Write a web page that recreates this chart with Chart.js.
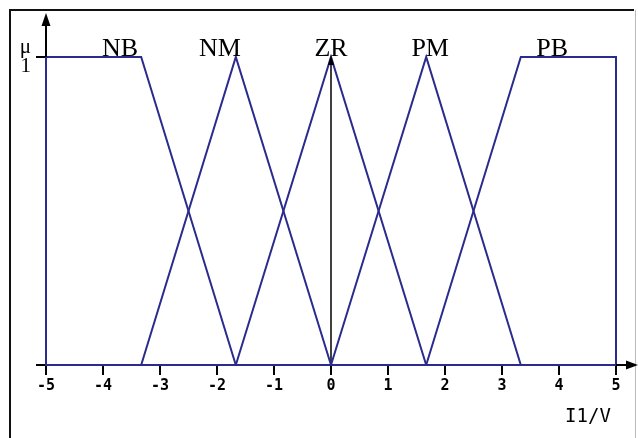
<!DOCTYPE html>
<html>
<head>
<meta charset="utf-8">
<script src="https://cdn.jsdelivr.net/npm/chart.js@4/dist/chart.umd.min.js"></script>
<style>
  html, body { margin: 0; padding: 0; background: #ffffff; }
  #wrap { width: 638px; height: 438px; }
</style>
</head>
<body>
<div id="wrap"><canvas id="c" width="638" height="438"></canvas></div>
<script>
// Fuzzy sets over the input I1 (V)
const setNames = ['NB', 'NM', 'ZR', 'PM', 'PB'];
const setLabelX = [-3.7, -1.95, 0, 1.74, 3.88];

const nbX = [-5, -5, -3.33, -1.67];
const nbY = [0, 1, 1, 0];
const nmX = [-3.33, -1.67, 0];
const nmY = [0, 1, 0];
const zrX = [-1.67, 0, 1.67];
const zrY = [0, 1, 0];
const pmX = [0, 1.67, 3.33];
const pmY = [0, 1, 0];
const pbX = [1.67, 3.33, 5, 5];
const pbY = [0, 1, 1, 0];

// centre marker of ZR
const zrAxisX = [0, 0];
const zrAxisY = [0, 1];

const xTickValues = [-5, -4, -3, -2, -1, 0, 1, 2, 3, 4, 5];
const xTickLabels = ['-5', '-4', '-3', '-2', '-1', '0', '1', '2', '3', '4', '5'];
const yTickValues = [0, 1];
const yTickLabels = ['', ['\u03bc', '1']];

const NAVY = '#2b2b8e';

function pts(xs, ys) { return xs.map((x, i) => ({ x: x, y: ys[i] })); }

function lineSet(xs, ys, color, width) {
  return {
    data: pts(xs, ys),
    showLine: true,
    borderColor: color,
    borderWidth: width,
    pointRadius: 0,
    tension: 0,
    fill: false,
    clip: false
  };
}

const decorations = {
  id: 'decorations',
  beforeDraw(chart) {
    const ctx = chart.ctx;
    ctx.save();
    // outer frame
    ctx.strokeStyle = '#111';
    ctx.lineWidth = 2;
    ctx.beginPath();
    ctx.moveTo(10, 438);
    ctx.lineTo(10, 10);
    ctx.lineTo(634, 10);
    ctx.stroke();
    ctx.strokeStyle = '#bbbbbb';
    ctx.lineWidth = 1;
    ctx.beginPath();
    ctx.moveTo(635.5, 10);
    ctx.lineTo(635.5, 438);
    ctx.stroke();
    ctx.restore();
  },
  afterDraw(chart) {
    const ctx = chart.ctx;
    const a = chart.chartArea;
    const xs = chart.scales.x;
    ctx.save();
    ctx.strokeStyle = '#000';
    ctx.fillStyle = '#000';
    ctx.lineWidth = 2;
    // vertical axis extension with arrow
    ctx.beginPath();
    ctx.moveTo(a.left, a.top);
    ctx.lineTo(a.left, 20);
    ctx.stroke();
    ctx.beginPath();
    ctx.moveTo(a.left, 13);
    ctx.lineTo(a.left - 4.5, 26);
    ctx.lineTo(a.left + 4.5, 26);
    ctx.closePath();
    ctx.fill();
    // horizontal axis extension with arrow
    ctx.beginPath();
    ctx.moveTo(a.right, a.bottom);
    ctx.lineTo(630, a.bottom);
    ctx.stroke();
    ctx.beginPath();
    ctx.moveTo(638, a.bottom);
    ctx.lineTo(626, a.bottom - 4.5);
    ctx.lineTo(626, a.bottom + 4.5);
    ctx.closePath();
    ctx.fill();
    // small arrow tip on the ZR centre line
    const zx = xs.getPixelForValue(0);
    ctx.beginPath();
    ctx.moveTo(zx, a.top - 2);
    ctx.lineTo(zx - 3, a.top + 8);
    ctx.lineTo(zx + 3, a.top + 8);
    ctx.closePath();
    ctx.fill();
    // set names
    ctx.font = "26px 'Liberation Serif', 'Times New Roman', serif";
    ctx.textAlign = 'center';
    ctx.textBaseline = 'alphabetic';
    setNames.forEach((n, i) => {
      ctx.fillText(n, xs.getPixelForValue(setLabelX[i]), a.top - 1);
    });
    // axis unit
    ctx.font = "19px 'DejaVu Sans Mono', monospace";
    ctx.fillText('I1/V', 588, 422);
    ctx.restore();
  }
};

new Chart(document.getElementById('c'), {
  type: 'scatter',
  data: {
    datasets: [
      lineSet(nbX, nbY, NAVY, 2),
      lineSet(nmX, nmY, NAVY, 2),
      lineSet(zrX, zrY, NAVY, 2),
      lineSet(pmX, pmY, NAVY, 2),
      lineSet(pbX, pbY, NAVY, 2),
      lineSet(zrAxisX, zrAxisY, '#000000', 1.5)
    ]
  },
  options: {
    responsive: false,
    animation: false,
    devicePixelRatio: 1,
    layout: { padding: { left: 10, right: 22, top: 57, bottom: 23 } },
    plugins: { legend: { display: false }, tooltip: { enabled: false } },
    scales: {
      x: {
        type: 'linear',
        min: -5,
        max: 5,
        afterBuildTicks(scale) { scale.ticks = xTickValues.map(v => ({ value: v })); },
        afterFit(scale) { scale.height = 50; },
        ticks: {
          autoSkip: false,
          maxRotation: 0,
          padding: 2,
          color: '#000',
          font: { family: "'DejaVu Sans Mono', monospace", size: 15, weight: 'bold' },
          callback(v) { const i = xTickValues.indexOf(v); return i >= 0 ? xTickLabels[i] : ''; }
        },
        grid: { drawOnChartArea: false, drawTicks: true, tickLength: 10, color: '#000', lineWidth: 2 },
        border: { display: true, color: NAVY, width: 2 }
      },
      y: {
        type: 'linear',
        min: 0,
        max: 1,
        afterBuildTicks(scale) { scale.ticks = yTickValues.map(v => ({ value: v })); },
        afterFit(scale) { scale.width = 36; },
        ticks: {
          padding: 5,
          color: '#000',
          font: { family: "'Liberation Serif', 'Times New Roman', serif", size: 21, lineHeight: 0.95 },
          callback(v) { const i = yTickValues.indexOf(v); return i >= 0 ? yTickLabels[i] : ''; }
        },
        grid: { drawOnChartArea: false, drawTicks: true, tickLength: 10, color: '#000', lineWidth: 2 },
        border: { display: true, color: NAVY, width: 2 }
      }
    }
  },
  plugins: [decorations]
});
</script>
</body>
</html>
